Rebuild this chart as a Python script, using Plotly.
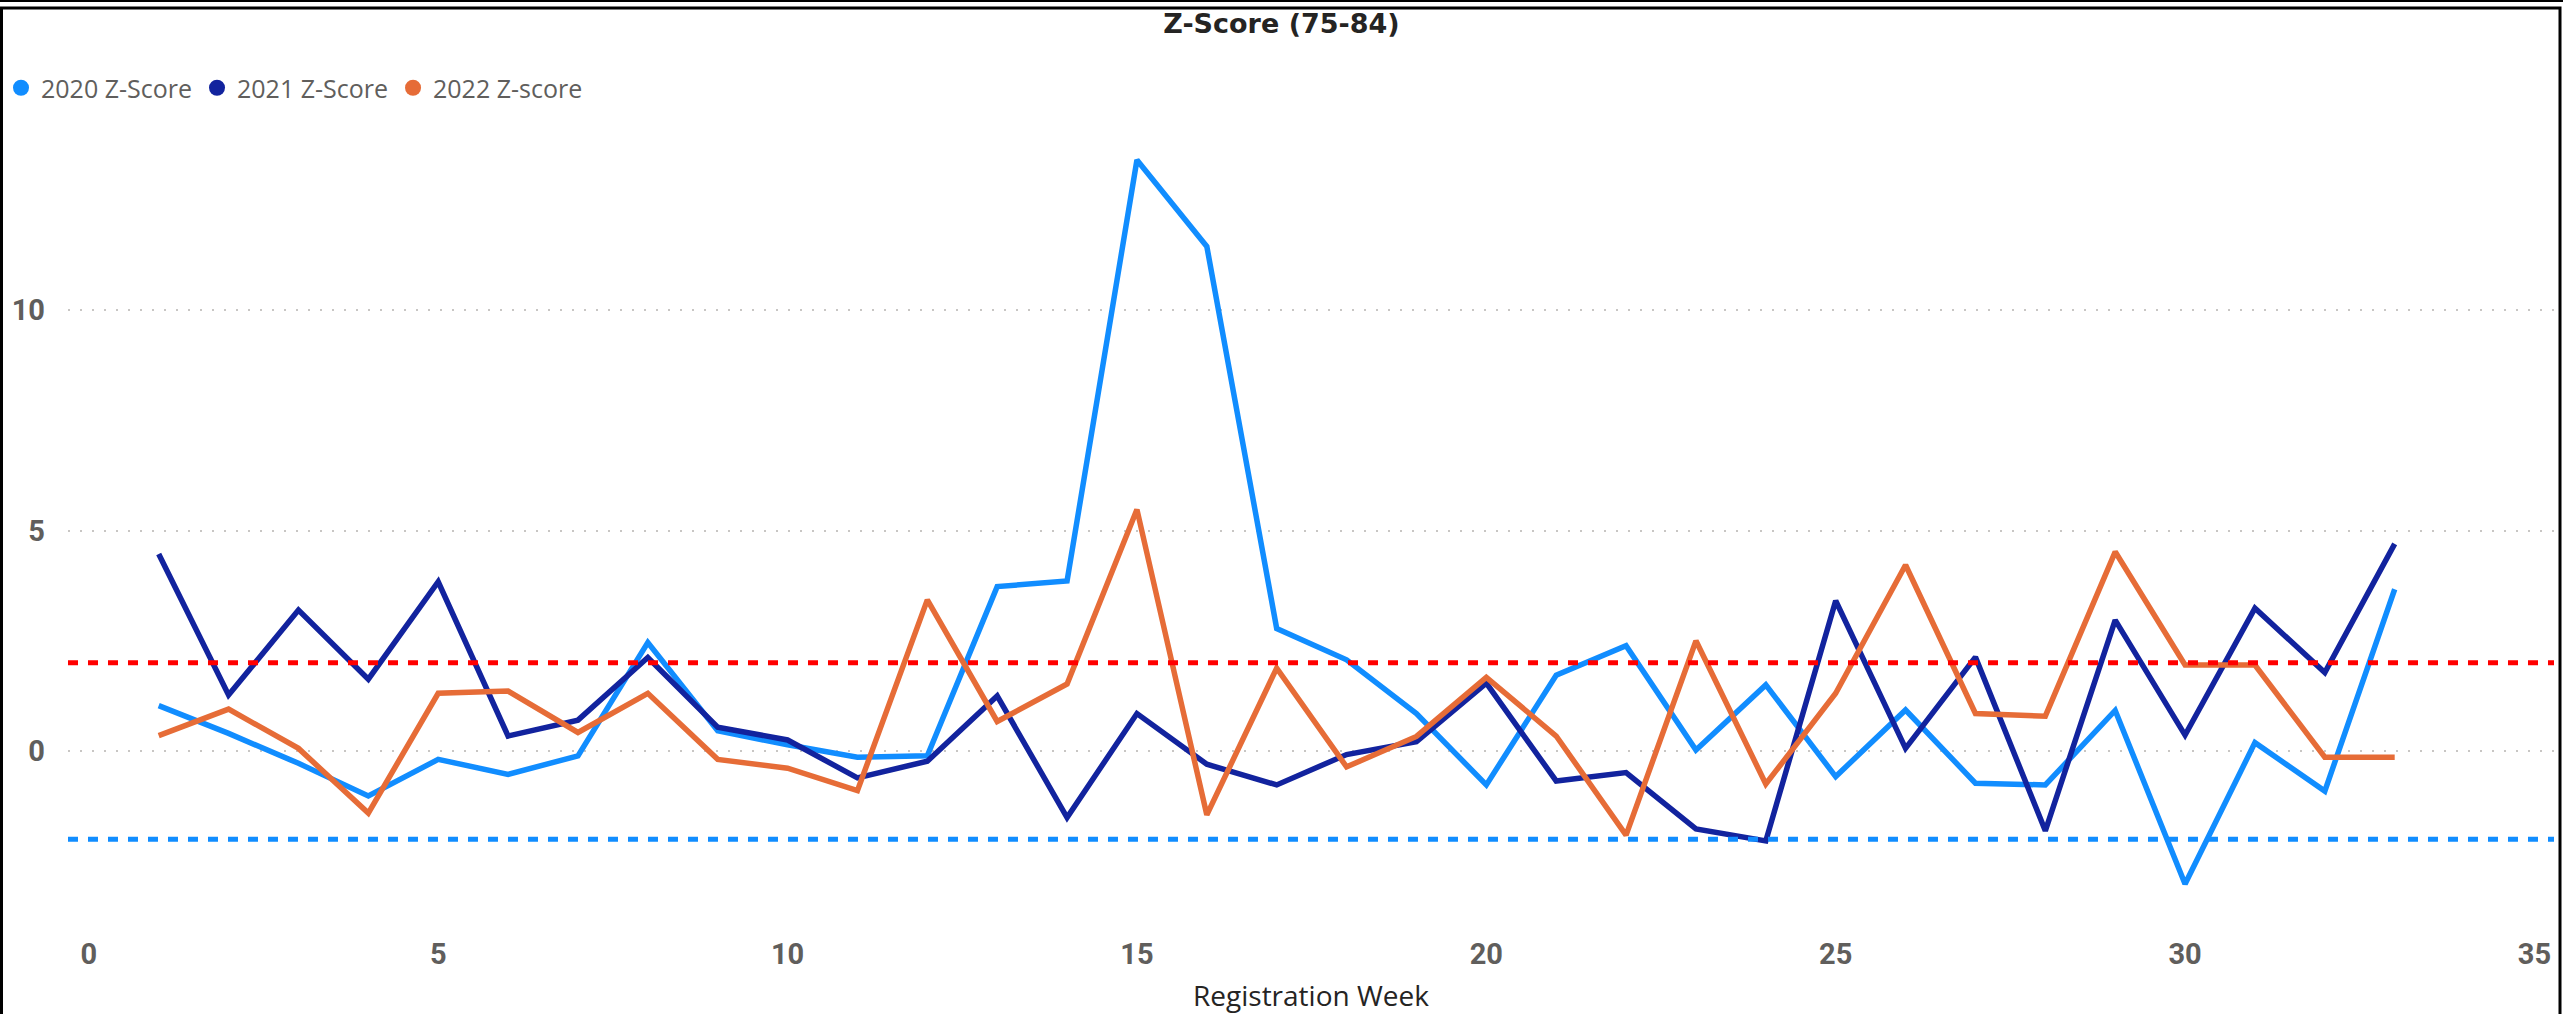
import plotly.graph_objects as go

weeks = list(range(1, 34))
z2020 = [1.03, 0.40, -0.28, -1.02, -0.19, -0.53, -0.11, 2.46, 0.46, 0.14, -0.14, -0.11, 3.73,
         3.86, 13.41, 11.45, 2.78, 2.07, 0.85, -0.77, 1.72, 2.39, 0.02, 1.50, -0.58, 0.93, -0.73,
         -0.77, 0.92, -3.02, 0.19, -0.91, 3.67]
z2021 = [4.47, 1.27, 3.20, 1.63, 3.84, 0.34, 0.70, 2.12, 0.54, 0.25, -0.61, -0.23, 1.25,
         -1.51, 0.85, -0.30, -0.77, -0.08, 0.21, 1.54, -0.68, -0.49, -1.77, -2.04, 3.41, 0.06, 2.13,
         -1.81, 2.97, 0.36, 3.24, 1.78, 4.70]
z2022 = [0.35, 0.95, 0.06, -1.41, 1.31, 1.36, 0.42, 1.31, -0.19, -0.39, -0.90, 3.43, 0.67,
         1.52, 5.48, -1.45, 1.88, -0.36, 0.33, 1.67, 0.34, -1.91, 2.50, -0.75, 1.31, 4.22, 0.85,
         0.79, 4.52, 1.95, 1.95, -0.14, -0.14]
series_names = ["2020 Z-Score", "2021 Z-Score", "2022 Z-score"]
series_colors = ["#118DFF", "#12239E", "#E66C37"]
upper_threshold = 2
lower_threshold = -2
x_ticks = [0, 5, 10, 15, 20, 25, 30, 35]
y_ticks = [0, 5, 10]

W, H = 2563, 1014
L, R, T, B = 68, 2554, 100, 900  # plot area pixel bounds


def px(x):
    return (x - L) / (R - L)


def py(y):
    return (B - y) / (B - T)


fig = go.Figure()
for name, vals, col in zip(series_names, [z2020, z2021, z2022], series_colors):
    fig.add_trace(go.Scatter(x=weeks, y=vals, mode="lines", name=name,
                             line=dict(color=col, width=5.5), showlegend=False))
for name, col in zip(series_names, series_colors):
    fig.add_trace(go.Scatter(x=[None], y=[None], mode="markers", name=name,
                             marker=dict(color=col, size=21, symbol="circle")))

fig.add_hline(y=upper_threshold, line=dict(color="#FF0000", width=5, dash="10px,10px"))
fig.add_hline(y=lower_threshold, line=dict(color="#118DFF", width=5, dash="10px,10px"))

# frame
fig.add_shape(type="line", xref="paper", yref="paper", x0=px(0), x1=px(W), y0=py(1), y1=py(1),
              line=dict(color="#000000", width=2))
fig.add_shape(type="rect", xref="paper", yref="paper", x0=px(1.5), x1=px(2560), y0=py(8), y1=py(1030),
              line=dict(color="#000000", width=3))

fig.update_layout(
    width=W, height=H,
    margin=dict(l=L, r=W - R, t=T, b=H - B, autoexpand=False),
    paper_bgcolor="white", plot_bgcolor="white",
    title=dict(text="<b>Z-Score (75-84)</b>", x=0.5, xanchor="center", y=1 - 24 / H, yanchor="middle",
               yref="container", font=dict(family="DejaVu Sans", size=27, color="#252423")),
    legend=dict(orientation="h", x=px(1), xanchor="left", y=py(88), yanchor="middle",
                font=dict(family="Open Sans", size=25, color="#605E5C"), itemsizing="trace",
                bgcolor="rgba(0,0,0,0)", tracegroupgap=0),
    showlegend=True,
    xaxis=dict(range=[-0.298, 35.28], tickvals=x_ticks, showgrid=False, zeroline=False, showline=False,
               automargin=False,
               ticks="", tickfont=dict(family="Roboto", size=29, color="#605E5C", weight="bold"),
               ticklabelstandoff=34,
               title=dict(text="Registration Week", font=dict(family="Open Sans", size=28, color="#252423"),
                          standoff=16)),
    yaxis=dict(range=[(751 - 900) / 44.07, (751 - 100) / 44.07], tickvals=y_ticks, showgrid=True,
               automargin=False,
               gridcolor="#C8C6C4", gridwidth=2, griddash="2px,10px", zeroline=False, showline=False,
               ticks="", tickfont=dict(family="Roboto", size=29, color="#605E5C", weight="bold"),
               ticklabelstandoff=22),
)

fig.write_html("out.html", config={"displayModeBar": False},
               post_script="document.body.style.margin='0px';")
